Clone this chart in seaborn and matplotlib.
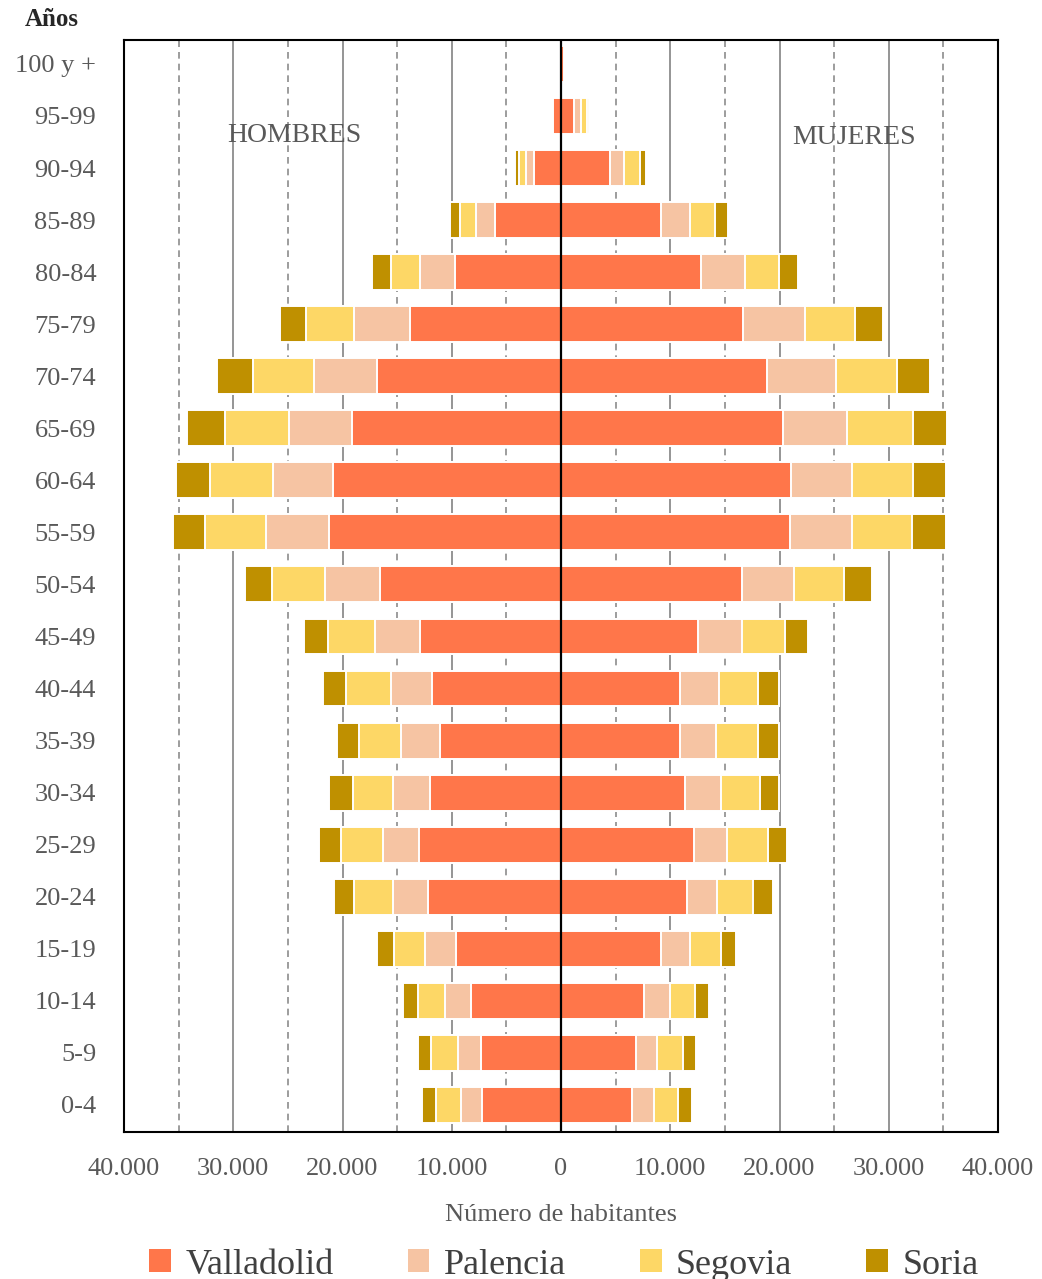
import matplotlib
matplotlib.use("Agg")
import matplotlib.pyplot as plt
from matplotlib.patches import Patch
from matplotlib.ticker import FuncFormatter
import numpy as np
import pandas as pd
import seaborn as sns

# Age groups, top to bottom
edades = ["100 y +", "95-99", "90-94", "85-89", "80-84", "75-79", "70-74",
          "65-69", "60-64", "55-59", "50-54", "45-49", "40-44", "35-39",
          "30-34", "25-29", "20-24", "15-19", "10-14", "5-9", "0-4"]

provincias = ["Valladolid", "Palencia", "Segovia", "Soria"]
colores = ["#FF764A", "#F6C4A3", "#FDD766", "#BF9000"]

# Men (habitantes)
hombres_valladolid = [0, 690, 2500, 6000, 9680, 13820, 16880, 19090, 20840, 21230,
                      16540, 12900, 11850, 11110, 12030, 13020, 12160, 9610, 8210, 7340, 7220]
hombres_palencia = [0, 0, 740, 1800, 3250, 5110, 5730, 5820, 5550, 5770,
                    5030, 4100, 3720, 3560, 3380, 3250, 3220, 2880, 2390, 2060, 1900]
hombres_segovia = [0, 0, 640, 1470, 2670, 4420, 5560, 5890, 5740, 5550,
                   4850, 4300, 4100, 3840, 3650, 3840, 3550, 2760, 2480, 2510, 2360]
hombres_soria = [0, 0, 330, 920, 1660, 2390, 3280, 3400, 3130, 3010,
                 2540, 2240, 2120, 1960, 2140, 2000, 1840, 1560, 1380, 1220, 1230]

# Women (habitantes)
mujeres_valladolid = [280, 1210, 4460, 9150, 12830, 16630, 18840, 20310, 21050, 21000,
                      16540, 12560, 10930, 10930, 11390, 12130, 11550, 9180, 7590, 6850, 6510]
mujeres_palencia = [0, 610, 1350, 2700, 3980, 5740, 6320, 5860, 5580, 5600,
                    4820, 3980, 3560, 3260, 3220, 3100, 2760, 2670, 2360, 1930, 1970]
mujeres_segovia = [0, 520, 1380, 2210, 3100, 4560, 5580, 6040, 5580, 5550,
                   4540, 3990, 3520, 3830, 3560, 3680, 3280, 2800, 2360, 2360, 2210]
mujeres_soria = [0, 250, 610, 1230, 1810, 2580, 3000, 3160, 3040, 3050,
                 2600, 2080, 1970, 1970, 1810, 1810, 1840, 1410, 1260, 1220, 1290]

hombres = pd.DataFrame({"edad": edades, "Valladolid": hombres_valladolid,
                        "Palencia": hombres_palencia, "Segovia": hombres_segovia,
                        "Soria": hombres_soria})
mujeres = pd.DataFrame({"edad": edades, "Valladolid": mujeres_valladolid,
                        "Palencia": mujeres_palencia, "Segovia": mujeres_segovia,
                        "Soria": mujeres_soria})

sns.set_style("white")
plt.rcParams["font.family"] = ["Liberation Serif", "DejaVu Serif"]

GRIS = "#595959"

fig = plt.figure(figsize=(10.42, 12.79), dpi=100)
ax = fig.add_axes([124 / 1042, 1 - 1132 / 1279, (998 - 124) / 1042, (1132 - 40) / 1279])

# Vertical reference lines every 5.000 habitantes
for v in range(-35000, 40000, 5000):
    if v == 0:
        continue
    if v % 10000 == 0:
        ax.axvline(v, color="#8c8c8c", lw=1.3, ls="-", zorder=0)
    else:
        ax.axvline(v, color="#8c8c8c", lw=1.2, ls=(0, (4, 3)), zorder=0)

# Stacked bars: draw cumulative totals from the outermost province inward
for df, signo in ((hombres, -1), (mujeres, 1)):
    acum = df[provincias].cumsum(axis=1)
    for prov, col in reversed(list(zip(provincias, colores))):
        capa = pd.DataFrame({"edad": df["edad"], "valor": signo * acum[prov]})
        sns.barplot(data=capa, x="valor", y="edad", order=edades, orient="h",
                    color=col, saturation=1, width=0.69, edgecolor="white",
                    linewidth=1.4, ax=ax, errorbar=None, zorder=2)

ax.axvline(0, color="black", lw=1.6, zorder=5)

ax.set_xlim(-40000, 40000)
ax.set_ylim(len(edades) - 0.48, -0.46)
ax.set_xticks(range(-40000, 40001, 10000))
ax.xaxis.set_major_formatter(FuncFormatter(lambda v, p: f"{abs(int(v)):,}".replace(",", ".")))
ax.tick_params(axis="x", length=0, pad=19, labelsize=19, labelcolor=GRIS)
ax.tick_params(axis="y", length=0, pad=20, labelsize=19, labelcolor=GRIS)
ax.set_xlabel("Número de habitantes", fontsize=19, color=GRIS, labelpad=17)
ax.set_ylabel("")

for s in ax.spines.values():
    s.set_visible(True)
    s.set_color("black")
    s.set_linewidth(1.5)

ax.text(-24400, 1.37, "HOMBRES", fontsize=20, color=GRIS, ha="center", va="center")
ax.text(26800, 1.42, "MUJERES", fontsize=20, color=GRIS, ha="center", va="center")

fig.text(52 / 1042, 1 - 20 / 1279, "Años", fontsize=18, fontweight="bold",
         color="#262626", ha="center", va="center")

handles = [Patch(facecolor=c, edgecolor="none", label=p) for p, c in zip(provincias, colores)]
fig.legend(handles=handles, loc="center", bbox_to_anchor=(564 / 1042, 1 - 1265 / 1279),
           ncol=4, frameon=False, fontsize=26, handlelength=0.6, handleheight=0.6,
           handletextpad=0.4, columnspacing=2.05, labelcolor="#404040",
           borderaxespad=0, borderpad=0)

fig.savefig("out.png", dpi=100)
